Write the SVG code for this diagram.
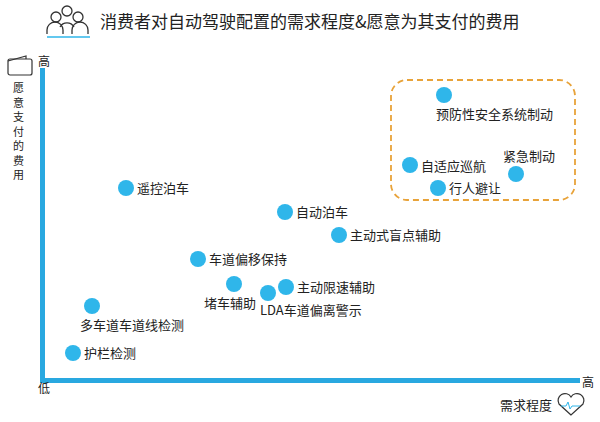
<svg xmlns="http://www.w3.org/2000/svg" width="600" height="422" viewBox="0 0 600 422">
<style>
text{font-family:"Noto Sans CJK SC","Liberation Sans",sans-serif;fill:#222}
.t{font-size:13px}
.d{fill:#2fb6ea}
.ic{fill:none;stroke:#333;stroke-width:1.3}
</style>
<rect width="600" height="422" fill="#fff"/>
<g id="header">
<g class="ic"><circle cx="67" cy="11" r="5"/><circle cx="56" cy="17" r="5"/><circle cx="78" cy="17" r="5"/><path d="M47 34v-4a8 8 0 0 1 16 0v4M72 34v-4a8 8 0 0 1 16 0v4M60 27a8 8 0 0 1 14 0"/></g>
<line x1="47" y1="37" x2="90" y2="37" stroke="#2fb6ea" stroke-width="1.5"/>
<text x="100" y="28" font-size="17">消费者对自动驾驶配置的需求程度&amp;愿意为其支付的费用</text>
</g>
<g id="axes">
<rect x="40" y="68" width="5" height="314" fill="#29a8e0"/>
<rect x="40" y="378" width="540" height="5" fill="#29a8e0"/>
<text x="38" y="66" font-size="12">高</text>
<text x="38" y="393" font-size="12">低</text>
<text x="582" y="387" font-size="12">高</text>
<text x="500" y="410" font-size="13">需求程度</text>
<path d="M571 415 l-12-11 a6 6 0 0 1 12-7 a6 6 0 0 1 12 7z" fill="none" stroke="#333" stroke-width="1.2"/>
<path d="M561 406h5l2-4 2 7 2-3h8" fill="none" stroke="#2fb6ea" stroke-width="1"/>
<rect x="8" y="59" width="24" height="16" rx="2" fill="none" stroke="#333" stroke-width="1.2"/>
<path d="M8 61l18-5v3" fill="none" stroke="#333" stroke-width="1.2"/>
<text font-size="11" x="13"><tspan x="13" y="92">愿</tspan><tspan x="13" y="106.5">意</tspan><tspan x="13" y="121">支</tspan><tspan x="13" y="135.5">付</tspan><tspan x="13" y="150">的</tspan><tspan x="13" y="164.5">费</tspan><tspan x="13" y="179">用</tspan></text>
</g>
<g id="highlight"><rect x="391" y="80" width="184" height="120" rx="16" fill="none" stroke="#e8a33a" stroke-width="1.8" stroke-dasharray="6 4"/></g>
<g id="n1"><circle class="d" cx="444" cy="95" r="8"/><text class="t" x="436" y="119">预防性安全系统制动</text></g>
<g id="n2"><circle class="d" cx="410" cy="165" r="8"/><text class="t" x="421" y="171">自适应巡航</text></g>
<g id="n3"><circle class="d" cx="516" cy="174" r="8"/><text class="t" x="503" y="161">紧急制动</text></g>
<g id="n4"><circle class="d" cx="438" cy="188" r="8"/><text class="t" x="449" y="193">行人避让</text></g>
<g id="n5"><circle class="d" cx="126" cy="188" r="8"/><text class="t" x="137" y="193">遥控泊车</text></g>
<g id="n6"><circle class="d" cx="285" cy="212" r="8"/><text class="t" x="296" y="217">自动泊车</text></g>
<g id="n7"><circle class="d" cx="339" cy="235" r="8"/><text class="t" x="350" y="240">主动式盲点辅助</text></g>
<g id="n8"><circle class="d" cx="198" cy="259" r="8"/><text class="t" x="209" y="264">车道偏移保持</text></g>
<g id="n9"><circle class="d" cx="234" cy="284" r="8"/><text class="t" x="204" y="308">堵车辅助</text></g>
<g id="n10"><circle class="d" cx="268" cy="293" r="8"/><text class="t" x="260" y="315">LDA车道偏离警示</text></g>
<g id="n11"><circle class="d" cx="286" cy="287" r="8"/><text class="t" x="297" y="292">主动限速辅助</text></g>
<g id="n12"><circle class="d" cx="92" cy="306" r="8"/><text class="t" x="80" y="330">多车道车道线检测</text></g>
<g id="n13"><circle class="d" cx="73" cy="353" r="8"/><text class="t" x="84" y="358">护栏检测</text></g>
<g id="connectors"/>
</svg>
